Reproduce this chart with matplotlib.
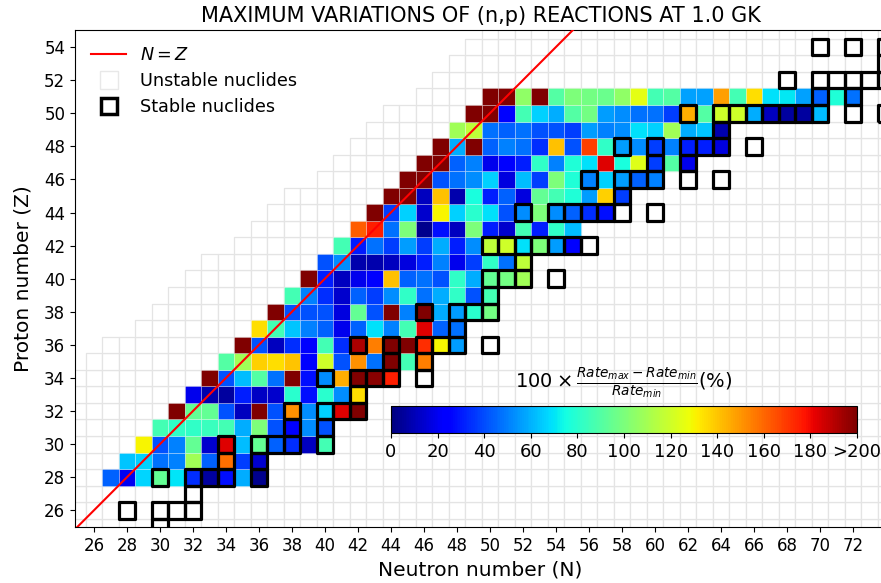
import numpy as np
import matplotlib
matplotlib.use('Agg')
import matplotlib.pyplot as plt
from matplotlib.patches import Rectangle
from matplotlib.collections import PatchCollection
from matplotlib.lines import Line2D
from matplotlib import colors, cm

# ---------------------------------------------------------------
# max variation (%) of the (n,p) rate, one list per proton number Z,
# starting at neutron number n_first[i]
z_list = list(range(28, 52))
n_first = [27, 28, 29, 30, 31, 32, 33, 34, 35, 36, 37, 38,
           39, 40, 41, 42, 43, 44, 45, 46, 47, 48, 49, 50]

v28 = [44, 20, 67, 94, 70, 34, 6, 28, 59, 3]
v29 = [64, 66, 47, 50, 109, 44, 158, 37, 14]
v30 = [130, 41, 50, 94, 14, 183, 62, 94, 44, 34, 11, 86]
v31 = [86, 82, 82, 84, 86, 59, 100, 41, 23, 53, 41]
v32 = [210, 94, 94, 41, 11, 205, 41, 151, 53, 66, 183, 200]
v33 = [19, 8, 6, 31, 12, 14, 80, 28, 80, 53, 135]
v34 = [210, 41, 62, 90, 47, 205, 28, 53, 145, 200, 198, 175]
v35 = [90, 109, 138, 135, 140, 23, 120, 41, 151, 47, 200, 86, 155]
v36 = [210, 41, 11, 34, 23, 86, 34, 192, 155, 200, 200, 172, 130, 56]
v37 = [135, 86, 64, 50, 44, 19, 44, 69, 50, 86, 183, 44, 47]
v38 = [210, 41, 41, 41, 17, 94, 41, 205, 50, 200, 59, 56, 80, 98]
v39 = [86, 50, 34, 14, 44, 37, 53, 82, 47, 59, 82, 41, 86]
v40 = [210, 31, 11, 19, 23, 141, 44, 47, 41, 82, 59, 94, 98, 109]
v41 = [41, 53, 8, 8, 11, 17, 31, 50, 19, 37, 82, 47, 116]
v42 = [86, 30, 47, 37, 56, 37, 59, 31, 53, 116, 120, 69, 100, 56, 23]
v43 = [162, 175, 47, 100, 3, 28, 11, 100, 31, 14, 86, 31, 82, 62]
v44 = [210, 37, 66, 14, 130, 66, 80, 69, 41, 53, 100, 53, 44, 34, 28]
v45 = [210, 205, 11, 141, 8, 76, 31, 44, 17, 94, 86, 78, 56, 138, 37]
v46 = [210, 205, 41, 47, 53, 66, 17, 62, 37, 100, 78, 50, 66, 56, 44, 50]
v47 = [210, 205, 44, 50, 19, 23, 31, 82, 50, 78, 69, 183, 76, 124, 37, 90, 19]
v48 = [210, 59, 205, 44, 50, 47, 34, 141, 41, 168, 82, 56, 53, 37, 50, 31, 31, 17]
v49 = [109, 116, 47, 44, 47, 41, 41, 37, 56, 50, 53, 69, 66, 109, 59, 64, 8]
v50 = [210, 205, 25, 86, 66, 59, 90, 98, 56, 53, 47, 47, 37, 145, 90, 120,
       120, 59, 11, 6, 6, 62]
v51 = [210, 205, 105, 210, 90, 100, 98, 96, 105, 125, 86, 90, 57, 57, 148,
       86, 135, 69, 71, 57, 44, 78, 47]
rows = [v28, v29, v30, v31, v32, v33, v34, v35, v36, v37, v38, v39,
        v40, v41, v42, v43, v44, v45, v46, v47, v48, v49, v50, v51]

# stable nuclides (N, Z)
stable_n = [30, 28, 30, 31, 32, 32, 30, 32, 33, 34, 36, 34, 36,
            34, 36, 37, 38, 40, 38, 40, 38, 40, 41, 42, 42,
            40, 42, 43, 44, 46, 44, 46, 42, 44, 46, 47, 48, 50, 48,
            46, 48, 49, 50, 50, 50, 51, 52, 54, 52,
            50, 51, 52, 53, 54, 55, 56, 52, 54, 55, 56, 57, 58, 60, 58,
            56, 58, 59, 60, 62, 64, 60, 62, 58, 60, 62, 63, 64, 66, 64,
            62, 64, 65, 66, 67, 68, 69, 70, 72, 74, 70, 72,
            68, 70, 71, 72, 73, 74, 74, 70, 72, 74]
stable_z = [25, 26, 26, 26, 26, 27, 28, 28, 28, 28, 28, 29, 29,
            30, 30, 30, 30, 30, 31, 31, 32, 32, 32, 32, 33,
            34, 34, 34, 34, 34, 35, 35, 36, 36, 36, 36, 36, 36, 37,
            38, 38, 38, 38, 39, 40, 40, 40, 40, 41,
            42, 42, 42, 42, 42, 42, 42, 44, 44, 44, 44, 44, 44, 44, 45,
            46, 46, 46, 46, 46, 46, 47, 47, 48, 48, 48, 48, 48, 48, 49,
            50, 50, 50, 50, 50, 50, 50, 50, 50, 50, 51, 51,
            52, 52, 52, 52, 52, 52, 53, 54, 54, 54]

# unstable nuclides: first neutron number of each isotopic chain
grid_z = list(range(25, 56))
grid_n0 = [24, 24, 24, 24, 24, 24, 24, 24, 24, 24, 26, 27, 29, 30, 31, 32,
           33, 35, 36, 37, 38, 40, 41, 42, 43, 44, 46, 47, 48, 49, 50]
grid_n1 = 75

cbar_ticks = [0, 20, 40, 60, 80, 100, 120, 140, 160, 180, 200]
cbar_labels = ['0', '20', '40', '60', '80', '100', '120', '140', '160', '180', '>200']
# ---------------------------------------------------------------

fig = plt.figure(figsize=(8.81, 5.83), dpi=100)
ax = fig.add_axes([75 / 881, 56 / 583, 811 / 881, 497 / 583])

cmap = plt.get_cmap('jet')
norm = colors.Normalize(vmin=0, vmax=200)

# unstable nuclides
grid = []
for z, n0 in zip(grid_z, grid_n0):
    for n in range(n0, grid_n1 + 1):
        grid.append(Rectangle((n - 0.5, z - 0.5), 1, 1))
ax.add_collection(PatchCollection(grid, facecolor='white', edgecolor='#e4e4e4',
                                  linewidth=0.9, zorder=1))

# coloured cells
cells, cols = [], []
for z, n0, vals in zip(z_list, n_first, rows):
    for k, v in enumerate(vals):
        cells.append(Rectangle((n0 + k - 0.5, z - 0.5), 1, 1))
        cols.append(cmap(norm(min(v, 200))))
ax.add_collection(PatchCollection(cells, facecolor=cols, edgecolor=(1, 1, 1, 0.35),
                                  linewidth=0.6, zorder=2))

# stable nuclides
stab = [Rectangle((n - 0.5, z - 0.5), 1, 1) for n, z in zip(stable_n, stable_z)]
ax.add_collection(PatchCollection(stab, facecolor='none', edgecolor='black',
                                  linewidth=2.3, zorder=3))

ax.plot([20, 60], [20, 60], color='red', lw=1.5, zorder=4)

ax.set_xlim(24.86, 74.0)
ax.set_ylim(25.0, 55.03)
ax.set_xticks(range(26, 73, 2))
ax.set_yticks(range(26, 55, 2))
ax.tick_params(labelsize=12)
ax.set_xlabel('Neutron number (N)', fontsize=14.5)
ax.set_ylabel('Proton number (Z)', fontsize=14.5, labelpad=8)
ax.set_title('MAXIMUM VARIATIONS OF (n,p) REACTIONS AT 1.0 GK', fontsize=15, pad=6)

handles = [Line2D([], [], color='red', lw=1.5),
           Line2D([], [], ls='', marker='s', ms=13, mfc='white', mec='#e8e8e8', mew=1),
           Line2D([], [], ls='', marker='s', ms=12, mfc='white', mec='black', mew=2.5)]
ax.legend(handles, ['$N=Z$', 'Unstable nuclides', 'Stable nuclides'],
          loc='upper left', frameon=False, fontsize=12.7, borderaxespad=0.5,
          labelspacing=0.45)

cax = fig.add_axes([391 / 881, 150 / 583, 466 / 881, 27 / 583])
sm = cm.ScalarMappable(norm=norm, cmap=cmap)
cb = fig.colorbar(sm, cax=cax, orientation='horizontal', ticks=cbar_ticks)
cb.ax.set_xticklabels(cbar_labels)
cb.ax.tick_params(labelsize=13)
cb.ax.xaxis.set_label_position('top')
cb.set_label(r'$100 \times \frac{Rate_{max} - Rate_{min}}{Rate_{min}}$(%)',
             fontsize=14, labelpad=13)

fig.savefig('out.png', dpi=100)
